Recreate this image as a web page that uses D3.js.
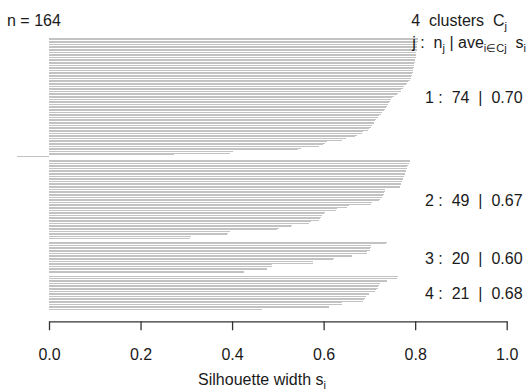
<!DOCTYPE html>
<html>
<head>
<meta charset="utf-8">
<script src="https://cdn.jsdelivr.net/npm/d3@7"></script>
<style>
  body { margin: 0; background: #fff; }
  svg { display: block; font-family: "Liberation Sans", Arial, sans-serif; }
</style>
</head>
<body>
<svg id="chart" width="531" height="390"></svg>
<script>
// silhouette widths per cluster, sorted as in the plot (top to bottom)
const sil1 = [0.807, 0.806, 0.806, 0.805, 0.805, 0.804, 0.804, 0.803, 0.803, 0.802, 0.802, 0.801, 0.801,
  0.800, 0.800, 0.799, 0.798, 0.798, 0.797, 0.796, 0.795, 0.795, 0.794, 0.793, 0.792,
  0.791, 0.789, 0.785, 0.782, 0.779, 0.776, 0.774, 0.770, 0.768, 0.763, 0.760, 0.753, 0.750, 0.747,
  0.745, 0.743, 0.740, 0.738, 0.736, 0.734, 0.731, 0.728, 0.725, 0.721, 0.718, 0.715, 0.712,
  0.710, 0.709, 0.706, 0.704, 0.700, 0.697, 0.687, 0.684, 0.673, 0.669, 0.648, 0.640, 0.608, 0.604,
  0.598, 0.590, 0.550, 0.545, 0.401, 0.396, 0.273, -0.070]
const sil2 = [0.789, 0.788, 0.786, 0.785, 0.783, 0.782, 0.781, 0.780, 0.778, 0.777, 0.775, 0.774,
  0.773, 0.772, 0.770, 0.769, 0.767, 0.766, 0.735, 0.734, 0.732, 0.731, 0.729, 0.728, 0.723, 0.721,
  0.706, 0.703, 0.655, 0.651, 0.630, 0.627, 0.604, 0.601, 0.596, 0.594, 0.592, 0.590, 0.572, 0.568,
  0.532, 0.528, 0.502, 0.498, 0.395, 0.391, 0.388, 0.310, 0.308]
const sil3 = [0.738, 0.737, 0.704, 0.703, 0.702, 0.701, 0.695, 0.694, 0.663, 0.662, 0.622, 0.621,
  0.577, 0.576, 0.488, 0.487, 0.477, 0.476, 0.427, 0.426]
const sil4 = [0.762, 0.760, 0.739, 0.738, 0.723, 0.722, 0.719, 0.718, 0.714, 0.713, 0.700, 0.699,
  0.692, 0.691, 0.688, 0.687, 0.641, 0.640, 0.612, 0.611, 0.466]

const clusterIds = [1, 2, 3, 4]
const clusterSizes = [74, 49, 20, 21]
const clusterAvg = ["0.70", "0.67", "0.60", "0.68"]
const xTicks = [0, 0.2, 0.4, 0.6, 0.8, 1.0]

const w = 531
const h = 390
const gap = 1.5
const fontSize = 16
const textColor = "#1a1a1a"

const svg = d3.select("#chart")

const xScale = d3.scaleLinear()
  .domain([0, 1])
  .range([49, 506.7])

// bar positions with a gap between clusters
const bars = []
const groups = []
let pos = 0
;[sil1, sil2, sil3, sil4].forEach((vals, k) => {
  if (k > 0) pos += gap
  const start = pos
  vals.forEach(v => { bars.push({ cluster: k, s: v, pos: pos }); pos += 1 })
  groups.push({ k: k, start: start, end: pos })
})

const yScale = d3.scaleLinear()
  .domain([0, pos])
  .range([37.5, 310.5])

const barH = (yScale(1) - yScale(0)) * 0.62

svg.append("g")
  .attr("shape-rendering", "crispEdges")
  .selectAll("rect")
  .data(bars)
  .enter()
  .append("rect")
  .attr("x", d => xScale(Math.min(0, d.s)))
  .attr("width", d => Math.abs(xScale(d.s) - xScale(0)))
  .attr("y", d => yScale(d.pos))
  .attr("height", barH)
  .attr("fill", "#c2c2c2")

// x axis
const xAxis = d3.axisBottom(xScale)
  .tickValues(xTicks)
  .tickFormat(d3.format(".1f"))
  .tickSize(9)
  .tickSizeOuter(0)
  .tickPadding(18)

const axisG = svg.append("g")
  .attr("transform", "translate(0,321.3)")
  .call(xAxis)

axisG.select(".domain").attr("stroke", "#333").attr("stroke-width", 1.3)
axisG.selectAll(".tick line").attr("stroke", "#333").attr("stroke-width", 1.3)
axisG.selectAll(".tick text")
  .attr("fill", textColor)
  .style("font-size", fontSize + "px")
  .style("font-family", "'Liberation Sans', Arial, sans-serif")

// text with subscripts: parts are {t, sub}
const subText = (x, y, parts, anchor) => {
  const t = svg.append("text")
    .attr("x", x)
    .attr("y", y)
    .attr("text-anchor", anchor)
    .attr("fill", textColor)
    .attr("font-size", fontSize)
    .attr("xml:space", "preserve")
  let down = false
  parts.forEach(p => {
    const ts = t.append("tspan").text(p.t)
    if (p.sub) {
      ts.attr("font-size", 11)
      if (!down) ts.attr("dy", 4)
      down = true
    } else if (down) {
      ts.attr("dy", -4)
      down = false
    }
  })
  return t
}

subText(7, 26, [{ t: "n = 164" }], "start")
subText(507, 26, [{ t: "4  clusters  C" }, { t: "j", sub: true }], "end")
subText(526, 48, [{ t: "j :  n" }, { t: "j", sub: true }, { t: " | ave" }, { t: "i\u2208Cj", sub: true }, { t: "  s" }, { t: "i", sub: true }], "end")

// cluster labels
groups.forEach(g => {
  const yc = (yScale(g.start) + yScale(g.end)) / 2
  svg.append("text")
    .attr("x", 425)
    .attr("y", yc + 6)
    .attr("fill", textColor)
    .attr("font-size", fontSize)
    .attr("xml:space", "preserve")
    .text(`${clusterIds[g.k]} :  ${clusterSizes[g.k]}  |  ${clusterAvg[g.k]}`)
})

// x label
subText(262, 385, [{ t: "Silhouette width s" }, { t: "i", sub: true }], "middle")
</script>
</body>
</html>
